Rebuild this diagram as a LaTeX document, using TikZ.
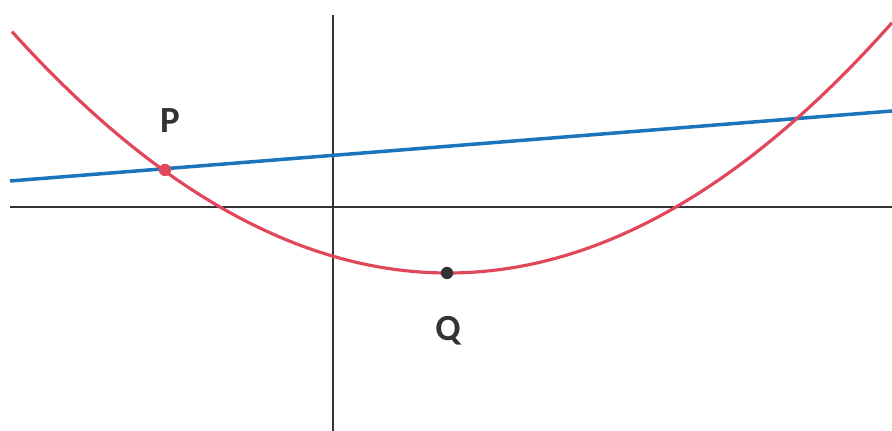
\documentclass[tikz,border=0pt]{standalone}
\usepackage{fontspec}
\setmainfont{Carlito}
\usetikzlibrary{calc}
\definecolor{curvered}{HTML}{E0475A}
\definecolor{lineblue}{HTML}{1B75BC}
\definecolor{axisgray}{HTML}{333333}

\begin{document}
\begin{tikzpicture}[x=0.02cm, y=-0.02cm,
  axis/.style={draw=axisgray, line width=1.1pt},
  curve/.style={draw=curvered, line width=1.8pt},
  chord/.style={draw=lineblue, line width=2pt},
  dot/.style={circle, inner sep=0pt, minimum size=7pt},
  ptlab/.style={font=\bfseries\fontsize{21}{24}\selectfont, text=axisgray}]
\useasboundingbox (0,0) rectangle (892,431);
% ----- axes -----
\coordinate (xl) at (10,207);
\coordinate (xr) at (892,207);
\coordinate (yt) at (333,15);
\coordinate (yb) at (333,431);
\draw[axis] (xl) -- (xr);
\draw[axis] (yt) -- (yb);
% ----- straight line through P -----
\coordinate (bl) at (10,181);
\coordinate (br) at (892,111);
\draw[chord] (bl) -- (br);
% ----- parabola, vertex at Q -----
\draw[curve] plot[domain=12:892, samples=120, smooth]
  (\x, {273 - 66*((\x-448)/228)^2});
% ----- marked points -----
\node[dot, fill=curvered] (P) at (165,170) {};
\node[dot, fill=axisgray] (Q) at (447,273) {};
\node[ptlab] (Plab) at (170,121) {P};
\node[ptlab] (Qlab) at (448,331) {Q};
\end{tikzpicture}
\end{document}
